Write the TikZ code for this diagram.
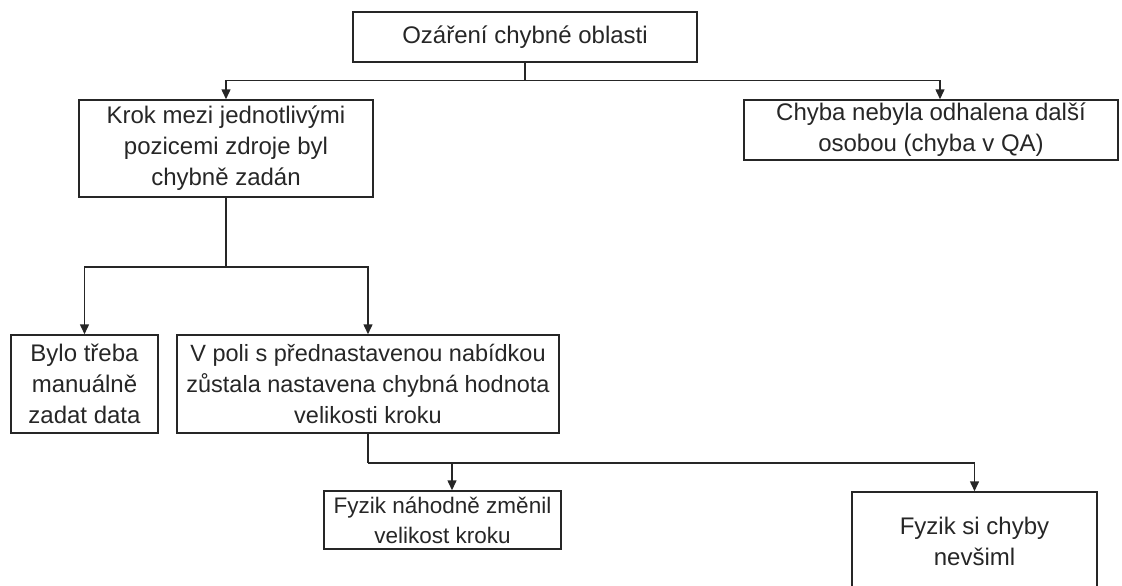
\documentclass[tikz,border=0pt]{standalone}
\usepackage{fontspec}
\setmainfont{Liberation Sans}
\usetikzlibrary{arrows.meta}
\tikzset{
  box/.style={draw=black!85, line width=1.5pt, align=center, inner sep=0pt,
    text=black!85, font=\fontsize{24}{31}\selectfont},
  arr/.style={draw=black!85, line width=1.5pt, -{Triangle[length=10pt,width=9pt]}},
  ln/.style={draw=black!85, line width=1.5pt}
}
\begin{document}
\begin{tikzpicture}[x=1pt,y=-1pt]
\useasboundingbox (0,0) rectangle (1122,586);
\clip (0,0) rectangle (1122,586);
\node[box, minimum width=344pt, minimum height=50pt] (top) at (525,37) {Ozáření chybné oblasti};
\node[box, minimum width=294pt, minimum height=97pt] (krok) at (226,148.5) {Krok mezi jednotlivými\\pozicemi zdroje byl\\chybně zadán};
\node[box, minimum width=374pt, minimum height=60pt] (chyba) at (931,130) {Chyba nebyla odhalena další\\osobou (chyba v QA)};
\node[box, minimum width=147pt, minimum height=98pt] (bylo) at (84.5,384) {Bylo třeba\\manuálně\\zadat data};
\node[box, minimum width=382pt, minimum height=98pt, font=\fontsize{23.5}{31}\selectfont] (vpoli) at (368,384) {V poli s přednastavenou nabídkou\\zůstala nastavena chybná hodnota\\velikosti kroku};
\node[box, minimum width=237pt, minimum height=58pt, font=\fontsize{22.5}{30}\selectfont] (fnah) at (442.5,520) {Fyzik náhodně změnil\\velikost kroku};
\node[box, minimum width=245pt, minimum height=98pt] (fsi) at (974.5,541) {Fyzik si chyby\\nevšiml};
\coordinate (j1) at ([yshift=-18pt]top.south);
\draw[ln] (top.south) -- (j1);
\draw[arr] (j1) -| (krok.north);
\draw[arr] (j1) -| ([xshift=9pt]chyba.north);
\coordinate (j2) at ([yshift=-69pt]krok.south);
\draw[ln] (krok.south) -- (j2);
\draw[arr] (j2) -| (bylo.north);
\draw[arr] (j2) -| (vpoli.north);
\coordinate (j3) at ([yshift=-29pt]vpoli.south);
\draw[ln] (vpoli.south) -- (j3);
\draw[arr] (j3) -| ([xshift=9.5pt]fnah.north);
\draw[arr] (j3) -| (fsi.north);
\end{tikzpicture}
\end{document}
